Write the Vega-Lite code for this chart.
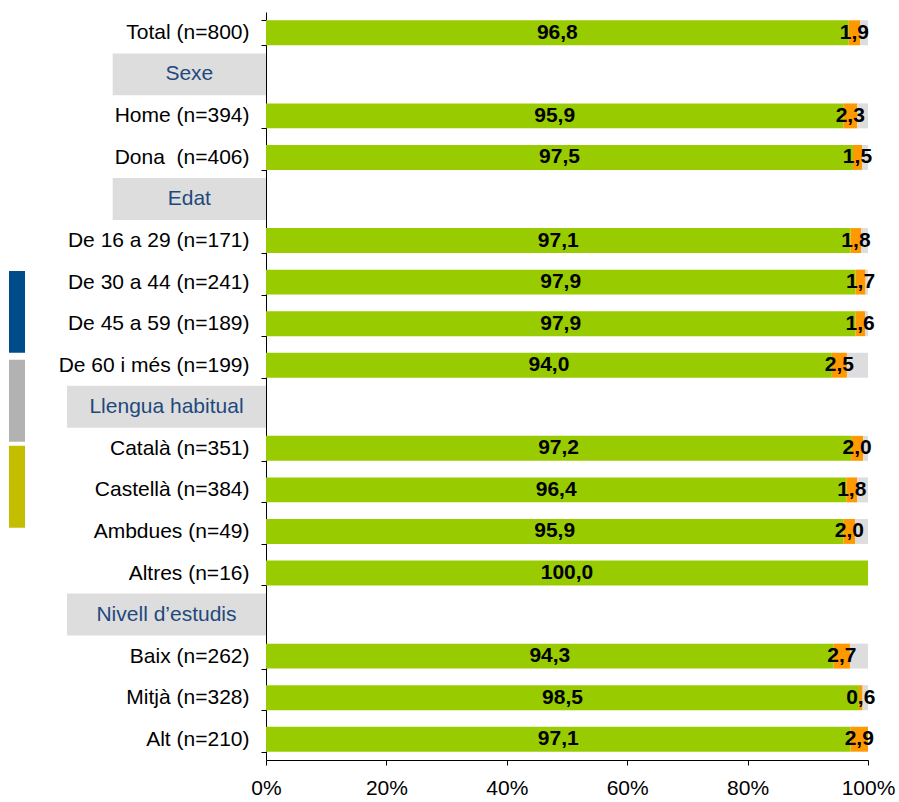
{
  "$schema": "https://vega.github.io/schema/vega-lite/v6.json",
  "width": 602,
  "height": 748,
  "autosize": {"type": "none"},
  "padding": {"left": 266, "top": 12, "right": 31, "bottom": 42},
  "background": "white",
  "config": {
    "view": {"stroke": null},
    "font": "Liberation Sans",
    "locale": {"number": {"decimal": ",", "thousands": ".", "grouping": [3], "currency": ["", " €"]}},
    "axis": {
      "domainColor": "#000000", "tickColor": "#000000", "labelColor": "#000000",
      "labelFont": "Liberation Sans", "labelFontSize": 21, "tickSize": 5,
      "grid": false, "domainWidth": 1, "tickWidth": 1, "labelLimit": 400
    }
  },
  "datasets": {
    "rows": [
      {"cat": "Total (n=800)", "seg": "Sí", "k": 1, "v": 96.8},
      {"cat": "Total (n=800)", "seg": "No", "k": 2, "v": 1.9},
      {"cat": "Total (n=800)", "seg": "NS/NC", "k": 3, "v": 1.3},
      {"cat": "Home (n=394)", "seg": "Sí", "k": 1, "v": 95.9},
      {"cat": "Home (n=394)", "seg": "No", "k": 2, "v": 2.3},
      {"cat": "Home (n=394)", "seg": "NS/NC", "k": 3, "v": 1.8},
      {"cat": "Dona  (n=406)", "seg": "Sí", "k": 1, "v": 97.5},
      {"cat": "Dona  (n=406)", "seg": "No", "k": 2, "v": 1.5},
      {"cat": "Dona  (n=406)", "seg": "NS/NC", "k": 3, "v": 1.0},
      {"cat": "De 16 a 29 (n=171)", "seg": "Sí", "k": 1, "v": 97.1},
      {"cat": "De 16 a 29 (n=171)", "seg": "No", "k": 2, "v": 1.8},
      {"cat": "De 16 a 29 (n=171)", "seg": "NS/NC", "k": 3, "v": 1.1},
      {"cat": "De 30 a 44 (n=241)", "seg": "Sí", "k": 1, "v": 97.9},
      {"cat": "De 30 a 44 (n=241)", "seg": "No", "k": 2, "v": 1.7},
      {"cat": "De 30 a 44 (n=241)", "seg": "NS/NC", "k": 3, "v": 0.4},
      {"cat": "De 45 a 59 (n=189)", "seg": "Sí", "k": 1, "v": 97.9},
      {"cat": "De 45 a 59 (n=189)", "seg": "No", "k": 2, "v": 1.6},
      {"cat": "De 45 a 59 (n=189)", "seg": "NS/NC", "k": 3, "v": 0.5},
      {"cat": "De 60 i més (n=199)", "seg": "Sí", "k": 1, "v": 94.0},
      {"cat": "De 60 i més (n=199)", "seg": "No", "k": 2, "v": 2.5},
      {"cat": "De 60 i més (n=199)", "seg": "NS/NC", "k": 3, "v": 3.5},
      {"cat": "Català (n=351)", "seg": "Sí", "k": 1, "v": 97.2},
      {"cat": "Català (n=351)", "seg": "No", "k": 2, "v": 2.0},
      {"cat": "Català (n=351)", "seg": "NS/NC", "k": 3, "v": 0.8},
      {"cat": "Castellà (n=384)", "seg": "Sí", "k": 1, "v": 96.4},
      {"cat": "Castellà (n=384)", "seg": "No", "k": 2, "v": 1.8},
      {"cat": "Castellà (n=384)", "seg": "NS/NC", "k": 3, "v": 1.8},
      {"cat": "Ambdues (n=49)", "seg": "Sí", "k": 1, "v": 95.9},
      {"cat": "Ambdues (n=49)", "seg": "No", "k": 2, "v": 2.0},
      {"cat": "Ambdues (n=49)", "seg": "NS/NC", "k": 3, "v": 2.1},
      {"cat": "Altres (n=16)", "seg": "Sí", "k": 1, "v": 100.0},
      {"cat": "Altres (n=16)", "seg": "No", "k": 2, "v": 0.0},
      {"cat": "Altres (n=16)", "seg": "NS/NC", "k": 3, "v": 0.0},
      {"cat": "Baix (n=262)", "seg": "Sí", "k": 1, "v": 94.3},
      {"cat": "Baix (n=262)", "seg": "No", "k": 2, "v": 2.7},
      {"cat": "Baix (n=262)", "seg": "NS/NC", "k": 3, "v": 3.0},
      {"cat": "Mitjà (n=328)", "seg": "Sí", "k": 1, "v": 98.5},
      {"cat": "Mitjà (n=328)", "seg": "No", "k": 2, "v": 0.6},
      {"cat": "Mitjà (n=328)", "seg": "NS/NC", "k": 3, "v": 0.9},
      {"cat": "Alt (n=210)", "seg": "Sí", "k": 1, "v": 97.1},
      {"cat": "Alt (n=210)", "seg": "No", "k": 2, "v": 2.9},
      {"cat": "Alt (n=210)", "seg": "NS/NC", "k": 3, "v": 0.0}
    ],
    "heads": [
      {"cat": "Sexe", "x0": -25.47, "x1": 0},
      {"cat": "Edat", "x0": -25.47, "x1": 0},
      {"cat": "Llengua habitual", "x0": -33.06, "x1": 0},
      {"cat": "Nivell d’estudis", "x0": -33.06, "x1": 0}
    ],
    "marks": [
      {"grp": "a", "r0": 6.23, "r1": 8.2, "c0": -42.69, "c1": -40.03},
      {"grp": "b", "r0": 8.37, "r1": 10.34, "c0": -42.69, "c1": -40.03},
      {"grp": "c", "r0": 10.44, "r1": 12.41, "c0": -42.69, "c1": -40.03}
    ]
  },
  "resolve": {"scale": {"y": "independent", "color": "independent"}},
  "layer": [
    {
      "layer": [
        {
          "data": {"name": "heads"},
          "mark": {"type": "bar", "color": "#DDDDDD", "height": {"band": 1.68}},
          "encoding": {
            "y": {"field": "cat", "type": "nominal", "title": null,
              "scale": {"domain": ["Total (n=800)", "Sexe", "Home (n=394)", "Dona  (n=406)", "Edat", "De 16 a 29 (n=171)", "De 30 a 44 (n=241)", "De 45 a 59 (n=189)", "De 60 i més (n=199)", "Llengua habitual", "Català (n=351)", "Castellà (n=384)", "Ambdues (n=49)", "Altres (n=16)", "Nivell d’estudis", "Baix (n=262)", "Mitjà (n=328)", "Alt (n=210)"], "paddingInner": 0.4, "paddingOuter": 0.2}},
            "x": {"field": "x0", "type": "quantitative", "title": null, "scale": {"domain": [0, 100], "nice": false}},
            "x2": {"field": "x1"}
          }
        },
        {
          "data": {"name": "heads"},
          "transform": [{"calculate": "datum.x0 / 2", "as": "xm"}],
          "mark": {"type": "text", "font": "Liberation Sans", "fontSize": 21, "color": "#1F497D", "align": "center", "baseline": "middle"},
          "encoding": {
            "y": {"field": "cat", "type": "nominal", "title": null},
            "x": {"field": "xm", "type": "quantitative", "title": null, "scale": {"domain": [0, 100], "nice": false}},
            "text": {"field": "cat"}
          }
        },
        {
          "data": {"name": "rows"},
          "mark": {"type": "bar"},
          "encoding": {
            "y": {"field": "cat", "type": "nominal", "title": null,
              "axis": {"title": null, "tickBand": "extent", "labelPadding": 12,
                "labelExpr": "!isString(datum.value) || indexof(['Sexe','Edat','Llengua habitual','Nivell d’estudis'], datum.value) >= 0 ? '' : replace(datum.value, 'Dona  ', 'Dona\u00a0 ')"}},
            "x": {"field": "v", "type": "quantitative", "stack": "zero", "title": null,
              "scale": {"domain": [0, 100], "nice": false},
              "axis": {"title": null, "values": [0, 20, 40, 60, 80, 100], "labelExpr": "datum.value + '%'", "labelPadding": 12, "labelFlush": false}},
            "color": {"field": "seg", "type": "nominal", "legend": null,
              "scale": {"domain": ["Sí", "No", "NS/NC"], "range": ["#99CC00", "#FF9900", "#DDDDDD"]}},
            "order": {"field": "k", "type": "quantitative"}
          }
        },
        {
          "data": {"name": "rows"},
          "transform": [{"filter": "datum.k < 3 && datum.v > 0"}],
          "mark": {"type": "text", "font": "Liberation Sans", "fontSize": 21, "fontWeight": "bold", "color": "#000000", "align": "center", "baseline": "middle"},
          "encoding": {
            "y": {"field": "cat", "type": "nominal", "title": null},
            "x": {"field": "v", "type": "quantitative", "stack": "zero", "bandPosition": 0.5, "title": null, "scale": {"domain": [0, 100], "nice": false}},
            "detail": {"field": "seg"},
            "order": {"field": "k", "type": "quantitative"},
            "text": {"field": "v", "type": "quantitative", "format": ".1f"}
          }
        }
      ]
    },
    {
      "data": {"name": "marks"},
      "mark": {"type": "rect"},
      "encoding": {
        "y": {"field": "r0", "type": "quantitative", "axis": null, "scale": {"domain": [0, 18], "reverse": true, "nice": false, "zero": false}},
        "y2": {"field": "r1"},
        "x": {"field": "c0", "type": "quantitative", "title": null, "scale": {"domain": [0, 100], "nice": false}},
        "x2": {"field": "c1"},
        "color": {"field": "grp", "type": "nominal", "legend": null,
          "scale": {"domain": ["a", "b", "c"], "range": ["#004C8A", "#B2B2B2", "#C4BE00"]}}
      }
    }
  ]
}
